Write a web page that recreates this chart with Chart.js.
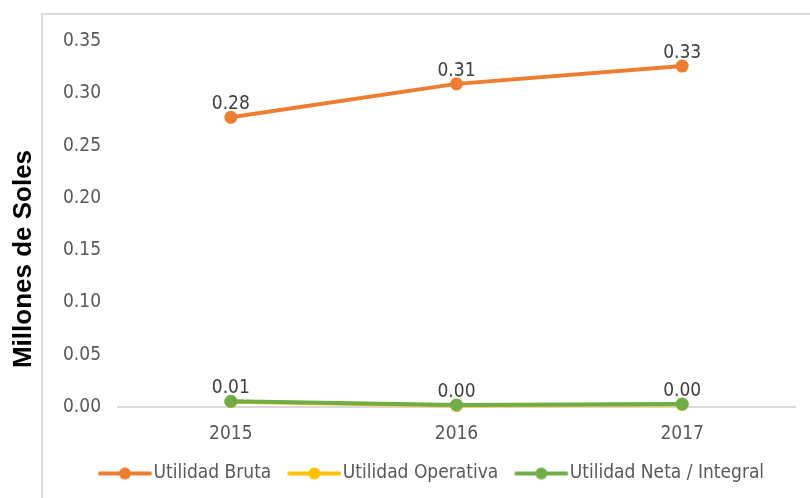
<!DOCTYPE html>
<html>
<head>
<meta charset="utf-8">
<script src="https://cdn.jsdelivr.net/npm/chart.js@4"></script>
<style>
  html, body { margin: 0; padding: 0; background: #fff; overflow: hidden; }
  #wrap { position: relative; width: 810px; height: 498px; }
  #frame { position: absolute; left: 41px; top: 13px; width: 900px; height: 600px; border-left: 2px solid #d9d9d9; border-top: 2px solid #d9d9d9; }
  canvas { position: absolute; left: 0; top: 0; }
</style>
</head>
<body>
<div id="wrap">
  <div id="frame"></div>
  <canvas id="chart" width="810" height="498"></canvas>
</div>
<script>
// values (millones de soles)
const years = ['2015', '2016', '2017'];
const utilidadBruta = [0.277, 0.309, 0.326];
const utilidadOperativa = [0.005, 0.0015, 0.0025];
const utilidadNeta = [0.0055, 0.002, 0.0028];
const seriesNames = ['Utilidad Bruta', 'Utilidad Operativa', 'Utilidad Neta / Integral'];
const yMin = 0;
const yMax = 0.35;
const yStep = 0.05;

const colors = ['#ED7D31', '#FFC000', '#70AD47'];
const fontFamily = '"DejaVu Sans Condensed", "DejaVu Sans", sans-serif';
const textSize = 19;

// legend marker: short line with a dot, shifted right inside the image
function legendIcon(color) {
    let c = document.createElement('canvas');
    c.width = 72;
    c.height = 14;
    let g = c.getContext('2d');
    g.strokeStyle = color;
    g.lineWidth = 4;
    g.lineCap = 'round';
    g.beginPath();
    g.moveTo(19, 7);
    g.lineTo(69, 7);
    g.stroke();
    g.fillStyle = color;
    g.beginPath();
    g.arc(44, 7, 6, 0, Math.PI * 2);
    g.fill();
    return c;
}
const icons = colors.map(legendIcon);

// value labels above the points (only the visible ones in the reference)
const pointLabels = {
    id: 'pointLabels',
    afterDatasetsDraw(chart) {
        let ctx = chart.ctx;
        ctx.save();
        ctx.font = textSize + 'px ' + fontFamily;
        ctx.fillStyle = '#404040';
        ctx.textAlign = 'center';
        ctx.textBaseline = 'alphabetic';
        chart.data.datasets.forEach((ds, i) => {
            if (!ds.showLabels) return;
            chart.getDatasetMeta(i).data.forEach((pt, j) => {
                ctx.fillText(ds.data[j].toFixed(2), pt.x, pt.y - 8);
            });
        });
        ctx.restore();
    }
};

// nudge the y title and the legend to where the reference has them
const placement = {
    id: 'placement',
    afterLayout(chart) {
        let y = chart.scales.y;
        y.top += 35;
        y.bottom += 35;

        let lg = chart.legend;
        let pad = lg.options.labels.padding;
        let x0 = (lg.left + pad + lg.right - lg.lineWidths[0]) / 2;
        let dx = 90 - x0;
        lg.left += dx;
        lg.right += dx;
    }
};

function makeDataset(label, data, color, showLabels, order) {
    return {
        label: label,
        data: data,
        borderColor: color,
        backgroundColor: color,
        borderWidth: 4,
        pointRadius: 5.5,
        pointBorderWidth: 2,
        pointHoverRadius: 5.5,
        tension: 0,
        clip: false,
        showLabels: showLabels,
        order: order
    };
}

const chart = new Chart(document.getElementById('chart'), {
    type: 'line',
    data: {
        labels: years,
        datasets: [
            makeDataset(seriesNames[0], utilidadBruta, colors[0], true, 3),
            makeDataset(seriesNames[1], utilidadOperativa, colors[1], false, 2),
            makeDataset(seriesNames[2], utilidadNeta, colors[2], true, 1)
        ]
    },
    options: {
        responsive: false,
        animation: false,
        layout: {
            padding: { left: 8, right: 15, top: 41, bottom: 5 }
        },
        scales: {
            x: {
                offset: true,
                afterFit: (scale) => { scale.height = 49; },
                grid: { display: false, drawTicks: false },
                border: { display: true, color: '#d9d9d9', width: 2 },
                ticks: {
                    color: '#595959',
                    font: { family: fontFamily, size: textSize },
                    padding: 16
                }
            },
            y: {
                min: yMin,
                max: yMax,
                afterFit: (scale) => { scale.width = 110; },
                grid: { display: false, drawTicks: false },
                border: { display: false },
                ticks: {
                    stepSize: yStep,
                    color: '#595959',
                    font: { family: fontFamily, size: textSize },
                    padding: 17,
                    callback: (v) => v.toFixed(2)
                },
                title: {
                    display: true,
                    text: 'Millones de Soles',
                    color: '#000000',
                    font: { family: '"Liberation Sans", Arial, sans-serif', size: 26, weight: 'bold' },
                    padding: { top: 0, bottom: 8 }
                }
            }
        },
        plugins: {
            tooltip: { enabled: false },
            legend: {
                position: 'bottom',
                labels: {
                    color: '#595959',
                    font: { family: fontFamily, size: textSize },
                    usePointStyle: true,
                    pointStyleWidth: 54,
                    padding: 8,
                    generateLabels(chart) {
                        let items = Chart.defaults.plugins.legend.labels.generateLabels(chart);
                        items.sort((a, b) => a.datasetIndex - b.datasetIndex);
                        items.forEach((it) => { it.pointStyle = icons[it.datasetIndex]; });
                        return items;
                    }
                }
            }
        }
    },
    plugins: [pointLabels, placement]
});
</script>
</body>
</html>
